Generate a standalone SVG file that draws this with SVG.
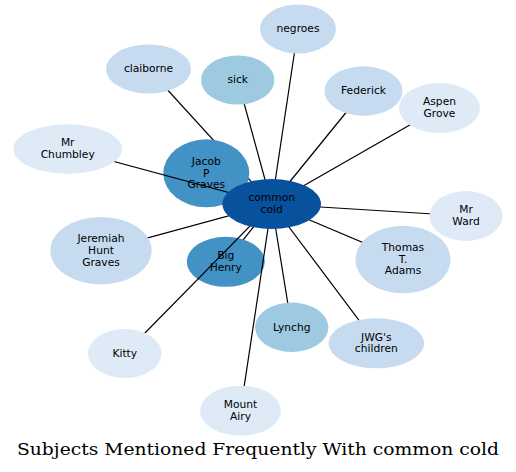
<svg xmlns="http://www.w3.org/2000/svg" width="516" height="472" viewBox="0 0 516 472">
<style>
.e{stroke:#000;stroke-width:1.2;fill:none}
.t{font-family:"DejaVu Sans",sans-serif;font-size:10.7px;fill:#000;text-anchor:middle}
.c1{fill:#08519c}.c2{fill:#4292c6}.c3{fill:#9ecae1}.c4{fill:#c6dbef}.c5{fill:#deebf7}
.title{font-family:"DejaVu Serif",serif;font-size:17.5px;fill:#000;text-anchor:middle}
</style>
<rect width="516" height="472" fill="#fff"/>
<g id="connectors-under">
<line class="e" x1="148.5" y1="69" x2="271.7" y2="204"/>
<line class="e" x1="206.3" y1="173.3" x2="271.7" y2="204"/>
<line class="e" x1="225.8" y1="261.8" x2="271.7" y2="204"/>
</g>
<g id="n-jacob"><ellipse class="c2" cx="206.3" cy="173.3" rx="43" ry="34"/><text class="t" x="206.3"><tspan x="206.3" y="164.8">Jacob</tspan><tspan x="206.3" y="176.5">P</tspan><tspan x="206.3" y="188.2">Graves</tspan></text></g>
<g id="n-bighenry"><ellipse class="c2" cx="225.8" cy="261.8" rx="39" ry="25"/><text class="t"><tspan x="225.8" y="259.15">Big</tspan><tspan x="225.8" y="270.85">Henry</tspan></text></g>
<g id="connectors">
<line class="e" x1="298" y1="29" x2="271.7" y2="204"/>
<line class="e" x1="237.7" y1="80" x2="271.7" y2="204"/>
<line class="e" x1="363.5" y1="91" x2="271.7" y2="204"/>
<line class="e" x1="439.5" y1="108" x2="271.7" y2="204"/>
<line class="e" x1="67.7" y1="149" x2="271.7" y2="204"/>
<line class="e" x1="466" y1="216" x2="271.7" y2="204"/>
<line class="e" x1="101" y1="250.7" x2="271.7" y2="204"/>
<line class="e" x1="403" y1="259.5" x2="271.7" y2="204"/>
<line class="e" x1="291.7" y1="327.3" x2="271.7" y2="204"/>
<line class="e" x1="376.3" y1="343.3" x2="271.7" y2="204"/>
<line class="e" x1="124.8" y1="353.5" x2="271.7" y2="204"/>
<line class="e" x1="240.5" y1="410.7" x2="271.7" y2="204"/>
</g>
<g id="n-negroes"><ellipse class="c4" cx="298" cy="29" rx="38" ry="24.5"/><text class="t" x="298" y="32.2">negroes</text></g>
<g id="n-claiborne"><ellipse class="c4" cx="148.5" cy="69" rx="42.5" ry="24.5"/><text class="t" x="148.5" y="72.2">claiborne</text></g>
<g id="n-sick"><ellipse class="c3" cx="237.7" cy="80" rx="36.7" ry="24.5"/><text class="t" x="237.7" y="83.2">sick</text></g>
<g id="n-federick"><ellipse class="c4" cx="363.5" cy="91" rx="39" ry="24.7"/><text class="t" x="363.5" y="94.2">Federick</text></g>
<g id="n-aspen"><ellipse class="c5" cx="439.5" cy="108" rx="40.5" ry="25"/><text class="t"><tspan x="439.5" y="105.35">Aspen</tspan><tspan x="439.5" y="117.05">Grove</tspan></text></g>
<g id="n-chumbley"><ellipse class="c5" cx="67.7" cy="149" rx="54.3" ry="24.7"/><text class="t"><tspan x="67.7" y="146.35">Mr</tspan><tspan x="67.7" y="158.05">Chumbley</tspan></text></g>
<g id="n-commoncold"><ellipse class="c1" cx="271.7" cy="204" rx="49.3" ry="25"/><text class="t"><tspan x="271.7" y="201.35">common</tspan><tspan x="271.7" y="213.05">cold</tspan></text></g>
<g id="n-ward"><ellipse class="c5" cx="466" cy="216" rx="36.5" ry="25"/><text class="t"><tspan x="466" y="213.35">Mr</tspan><tspan x="466" y="225.05">Ward</tspan></text></g>
<g id="n-jeremiah"><ellipse class="c4" cx="101" cy="250.7" rx="50.7" ry="33.7"/><text class="t"><tspan x="101" y="242.2">Jeremiah</tspan><tspan x="101" y="253.9">Hunt</tspan><tspan x="101" y="265.6">Graves</tspan></text></g>
<g id="n-thomas"><ellipse class="c4" cx="403" cy="259.5" rx="47.5" ry="33.8"/><text class="t"><tspan x="403" y="251">Thomas</tspan><tspan x="403" y="262.7">T.</tspan><tspan x="403" y="274.4">Adams</tspan></text></g>
<g id="n-lynchg"><ellipse class="c3" cx="291.7" cy="327.3" rx="36.7" ry="24.7"/><text class="t" x="291.7" y="330.5">Lynchg</text></g>
<g id="n-jwg"><ellipse class="c4" cx="376.3" cy="343.3" rx="47.7" ry="25"/><text class="t"><tspan x="376.3" y="340.65">JWG's</tspan><tspan x="376.3" y="352.35">children</tspan></text></g>
<g id="n-kitty"><ellipse class="c5" cx="124.8" cy="353.5" rx="36.8" ry="24.5"/><text class="t" x="124.8" y="356.7">Kitty</text></g>
<g id="n-mountairy"><ellipse class="c5" cx="240.5" cy="410.7" rx="40.5" ry="25"/><text class="t"><tspan x="240.5" y="408.05">Mount</tspan><tspan x="240.5" y="419.75">Airy</tspan></text></g>
<text class="title" x="258" y="455" textLength="482" lengthAdjust="spacingAndGlyphs">Subjects Mentioned Frequently With common cold</text>
</svg>
